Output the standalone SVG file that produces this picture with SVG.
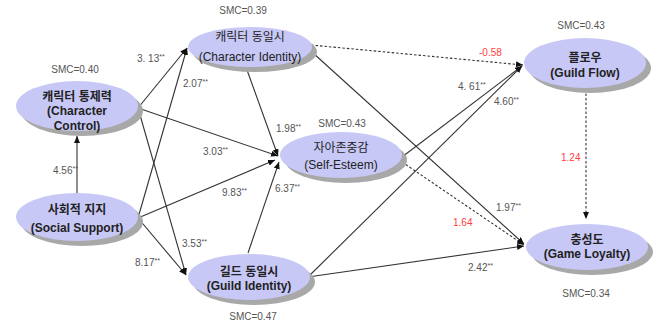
<svg xmlns="http://www.w3.org/2000/svg" width="662" height="323" viewBox="0 0 662 323">
<defs>
<marker id="ah" markerWidth="8" markerHeight="7" refX="7" refY="3" orient="auto" markerUnits="userSpaceOnUse">
<path d="M0,0 L7,3 L0,6 z" fill="#111"/>
</marker>
<style>
.sh{fill:#a8a8a8}
.nd{fill:#c8c8f6}
.t{font-family:"Liberation Sans","Noto Sans CJK KR",sans-serif;font-size:12px;fill:#222;text-anchor:middle}
.b{font-weight:bold}
.smc{font-family:"Liberation Sans",sans-serif;font-size:10px;fill:#555;text-anchor:middle}
.lb{font-family:"Liberation Sans",sans-serif;font-size:10px;fill:#555}
.red{fill:#ff4040}
.st{font-size:7px}
.c{stroke:#333;stroke-width:1.1;fill:none;marker-end:url(#ah)}
.d{stroke-dasharray:2.5,2}
</style>
</defs>
<rect width="662" height="323" fill="#fff"/>
<g id="connectors">
<path class="c" d="M77,195 L77,136"/>
<path class="c" d="M138,108 L187,48"/>
<path class="c" d="M138,108 L278,156"/>
<path class="c" d="M138,108 L186,275"/>
<path class="c" d="M138,218 L187,48"/>
<path class="c" d="M138,218 L275,160"/>
<path class="c" d="M138,218 L186,275"/>
<path class="c" d="M247,70 L278,156"/>
<path class="c" d="M248,253 L279,162"/>
<path class="c d" d="M311,45 L523,65"/>
<path class="c" d="M313,53 L524,244"/>
<path class="c" d="M402,157 L522,66"/>
<path class="c" d="M308,277 L522,66"/>
<path class="c d" d="M402,162 L524,245"/>
<path class="c" d="M308,277 L524,246"/>
<path class="c d" d="M586,89 L586,219"/>
</g>
<g id="edge-labels">
<text class="lb" x="53" y="174">4.56<tspan class="st" dy="-3">**</tspan></text>
<text class="lb" x="137" y="62">3. 13<tspan class="st" dy="-3">**</tspan></text>
<text class="lb" x="183" y="87">2.07<tspan class="st" dy="-3">**</tspan></text>
<text class="lb" x="203" y="155">3.03<tspan class="st" dy="-3">**</tspan></text>
<text class="lb" x="222" y="196">9.83<tspan class="st" dy="-3">**</tspan></text>
<text class="lb" x="182" y="247">3.53<tspan class="st" dy="-3">**</tspan></text>
<text class="lb" x="135" y="266">8.17<tspan class="st" dy="-3">**</tspan></text>
<text class="lb" x="276" y="132">1.98<tspan class="st" dy="-3">**</tspan></text>
<text class="lb" x="275" y="192">6.37<tspan class="st" dy="-3">**</tspan></text>
<text class="lb red" x="479" y="56">-0.58</text>
<text class="lb" x="458" y="90">4. 61<tspan class="st" dy="-3">**</tspan></text>
<text class="lb" x="494" y="105">4.60<tspan class="st" dy="-3">**</tspan></text>
<text class="lb red" x="561" y="161">1.24</text>
<text class="lb" x="496" y="211">1.97<tspan class="st" dy="-3">**</tspan></text>
<text class="lb red" x="453" y="226">1.64</text>
<text class="lb" x="468" y="271">2.42<tspan class="st" dy="-3">**</tspan></text>
</g>
<g id="character-control">
<ellipse class="sh" cx="82" cy="111" rx="61" ry="25"/>
<ellipse class="nd" cx="77" cy="106" rx="61" ry="25"/>
<text class="t b" x="77" y="101">캐릭터 통제력</text>
<text class="t b" x="77" y="115">(Character</text>
<text class="t b" x="77" y="130">Control)</text>
<text class="smc" x="75" y="73">SMC=0.40</text>
</g>
<g id="social-support">
<ellipse class="sh" cx="82" cy="222" rx="61" ry="24"/>
<ellipse class="nd" cx="77" cy="217" rx="61" ry="24"/>
<text class="t b" x="77" y="214">사회적 지지</text>
<text class="t b" x="77" y="232">(Social Support)</text>
</g>
<g id="character-identity">
<ellipse class="sh" cx="255" cy="52" rx="62" ry="20"/>
<ellipse class="nd" cx="250" cy="47" rx="62" ry="20"/>
<text class="t" x="250" y="41">캐릭터 동일시</text>
<text class="t" x="250" y="61">(Character Identity)</text>
<text class="smc" x="243" y="14">SMC=0.39</text>
</g>
<g id="self-esteem">
<ellipse class="sh" cx="346" cy="160" rx="61" ry="23"/>
<ellipse class="nd" cx="341" cy="155" rx="61" ry="23"/>
<text class="t" x="341" y="152">자아존중감</text>
<text class="t" x="341" y="169">(Self-Esteem)</text>
<text class="smc" x="342" y="127">SMC=0.43</text>
</g>
<g id="guild-identity">
<ellipse class="sh" cx="254" cy="282" rx="61" ry="23"/>
<ellipse class="nd" cx="249" cy="277" rx="61" ry="23"/>
<text class="t b" x="249" y="276">길드 동일시</text>
<text class="t b" x="249" y="290">(Guild Identity)</text>
<text class="smc" x="253" y="320">SMC=0.47</text>
</g>
<g id="guild-flow">
<ellipse class="sh" cx="590" cy="68" rx="61" ry="25"/>
<ellipse class="nd" cx="585" cy="63" rx="61" ry="25"/>
<text class="t b" x="585" y="62">플로우</text>
<text class="t b" x="585" y="77">(Guild Flow)</text>
<text class="smc" x="581" y="29">SMC=0.43</text>
</g>
<g id="game-loyalty">
<ellipse class="sh" cx="592" cy="252" rx="61" ry="23"/>
<ellipse class="nd" cx="587" cy="247" rx="61" ry="23"/>
<text class="t b" x="587" y="244">충성도</text>
<text class="t b" x="587" y="258">(Game Loyalty)</text>
<text class="smc" x="586" y="297">SMC=0.34</text>
</g>
</svg>
